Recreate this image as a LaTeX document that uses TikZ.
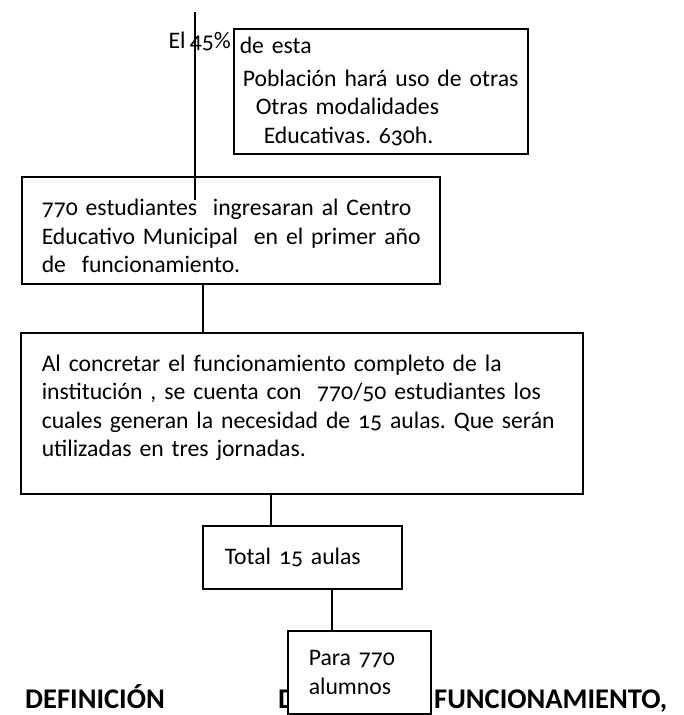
\documentclass[tikz,border=0pt]{standalone}
\usepackage{fontspec}
\setmainfont{Carlito}[Numbers=OldStyle, WordSpace=0.8]
\frenchspacing
\usetikzlibrary{positioning}
\tikzstyle{box} = [rectangle, draw, line width=1.5pt, anchor=north west, align=left, inner ysep=0pt, fill=white, font=\fontsize{23.7}{28.5}\selectfont]
\tikzstyle{title} = [anchor=base west, inner sep=0pt, font=\fontsize{28.5}{30}\selectfont\bfseries]
\tikzstyle{link} = [line width=1.5pt]

\begin{document}
\begin{tikzpicture}[x=1pt, y=-1pt]
        \useasboundingbox (0,0) rectangle (684,715);
        \node[title] (hdef) at (25,708) {DEFINICIÓN};
        \node[title] (hde) at (278,708) {DE};
        \node[title] (hfun) at (434,708) {FUNCIONAMIENTO,};
        \node[anchor=base east, inner sep=0pt, font=\fontsize{23.7}{28.5}\selectfont] (pct) at (231,48) {El 45\%};
        \node[box, inner xsep=6pt, text width=282pt, minimum height=125pt] (others) at (233,28) {de esta\\[4pt]
            \hspace*{3pt}Población hará uso de otras\\
            \hspace*{16pt}Otras modalidades\\
            \hspace*{24pt}Educativas. 630h.};
        \node[box, inner xsep=20pt, text width=378pt, minimum height=107pt] (intake) at (21,176) {\mbox{\rule{0pt}{28pt}770 estudiantes \ ingresaran al Centro}\\
            \mbox{Educativo Municipal \ en el primer año}\\
            \mbox{de \ funcionamiento.}};
        \node[box, inner xsep=21pt, text width=520pt, minimum height=161pt] (full) at (20,332) {\mbox{Al concretar el funcionamiento completo de la}\\
            \mbox{institución , se cuenta con \ 770/50 estudiantes los}\\
            \mbox{cuales generan la necesidad de 15 aulas. Que serán}\\
            \mbox{utilizadas en tres jornadas.}\\[-14pt] \mbox{}};
        \node[box, inner xsep=22pt, text width=155pt, minimum height=63pt] (total) at (202,525) {Total 15 aulas};
        \node[box, inner xsep=21pt, text width=101pt, minimum height=83pt] (pupils) at (287,630) {Para 770\\ alumnos};
        \coordinate (src) at (195,12);
        \coordinate (tip) at (195,200);
        \draw[link] (src) -- (tip);
        \draw[link] ([xshift=182pt]intake.south west) -- ([xshift=183pt]full.north west);
        \draw[link] ([xshift=251pt]full.south west) -- ([xshift=69pt]total.north west);
        \draw[link] ([xshift=130pt]total.south west) -- ([xshift=45pt]pupils.north west);
    \end{tikzpicture}
\end{document}
